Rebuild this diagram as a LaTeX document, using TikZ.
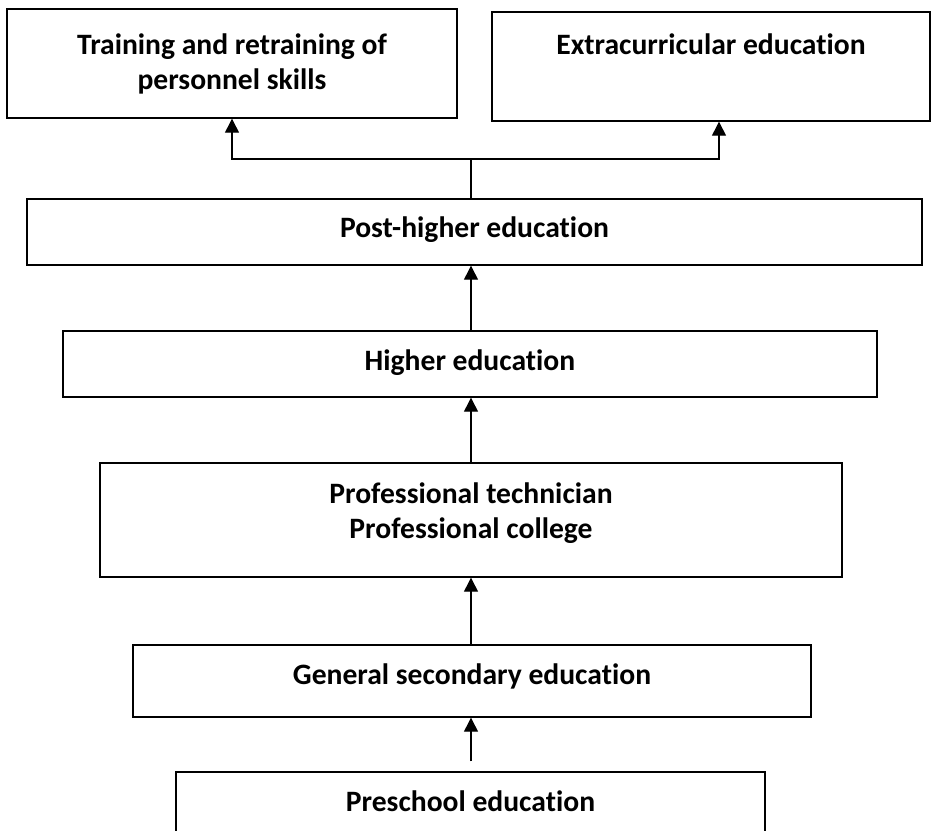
\documentclass[tikz,border=0pt]{standalone}
\usepackage{fontspec}
\setmainfont{Carlito}[Ligatures={NoCommon}]
\usetikzlibrary{arrows.meta}
\begin{document}
\begin{tikzpicture}[x=1pt,y=-1pt,
  box/.style={draw=black,line width=1.4pt,rectangle,inner sep=0pt},
  txt/.style={font=\fontsize{29.6}{35}\selectfont\bfseries,align=center,inner sep=0pt},
  arr/.style={line width=1.3pt,-{Triangle[length=14pt,width=14pt]}},
  ln/.style={line width=1.3pt}]
\clip (0,0) rectangle (934,830);
\fill[white] (0,0) rectangle (934,830);
% boxes
\node[box,minimum width=450pt,minimum height=109pt] (train) at (232,63.5) {};
\node[txt] (traint) at (232,63.5) {Training and retraining of\\personnel skills};
\node[box,minimum width=438pt,minimum height=109pt] (extra) at (711,66.5) {};
\node[txt] (extrat) at (711,44) {Extracurricular education};
\node[box,minimum width=895pt,minimum height=66pt] (post) at (474.5,232) {};
\node[txt] (postt) at (474.5,230) {Post-higher education};
\node[box,minimum width=814pt,minimum height=66pt] (higher) at (470,364) {};
\node[txt] (highert) at (470,363) {Higher education};
\node[box,minimum width=742pt,minimum height=114pt] (prof) at (471,520) {};
\node[txt] (proft) at (471,513.5) {Professional technician\\Professional college};
\node[box,minimum width=678pt,minimum height=72pt] (gen) at (472,681) {};
\node[txt] (gent) at (472,676) {General secondary education};
\node[box,minimum width=589pt,minimum height=120pt] (pre) at (470.5,832) {};
\node[txt] (pret) at (470.5,801) {Preschool education};
% connectors
\coordinate (j) at (471,159);
\draw[ln] (post.north -| j) -- (j);
\draw[arr] (j) -| (train.south);
\draw[arr] (j) -| ([xshift=8pt]extra.south);
\draw[arr] (higher.north -| j) -- (post.south -| j);
\draw[arr] (prof.north -| j) -- (higher.south -| j);
\draw[arr] (gen.north -| j) -- (prof.south -| j);
\draw[arr] ([yshift=10pt]pre.north -| j) -- (gen.south -| j);
\end{tikzpicture}
\end{document}
